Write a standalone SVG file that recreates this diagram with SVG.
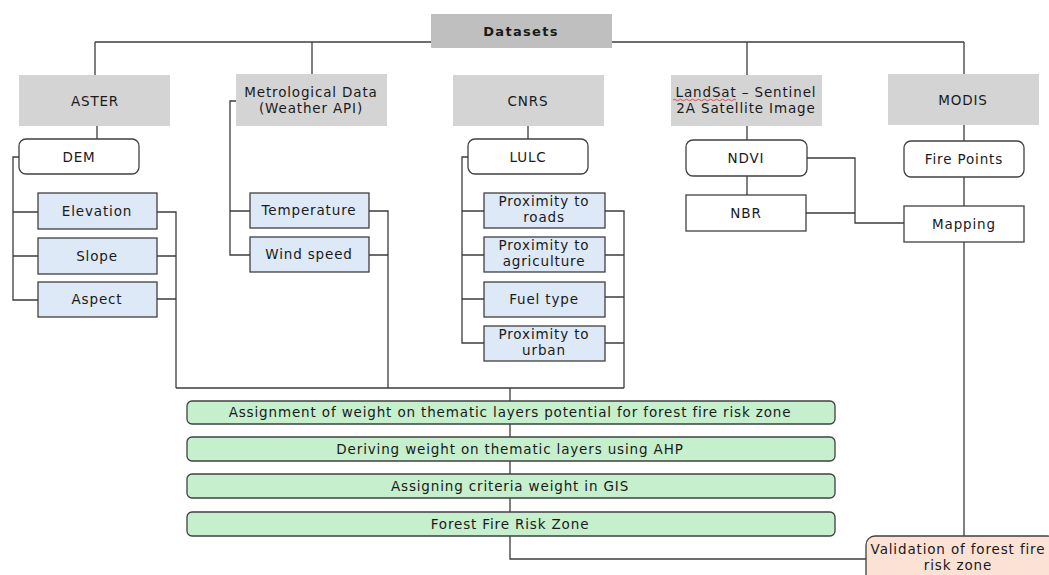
<svg xmlns="http://www.w3.org/2000/svg" width="1049" height="575" viewBox="0 0 1049 575">
<style>
  text { font-family: "DejaVu Sans", "Liberation Sans", sans-serif; font-size: 13.5px; letter-spacing: 0.85px; fill: #1a1a1a; text-anchor: middle; }
  .bold { font-weight: bold; font-size: 13px; letter-spacing: 1.3px; }
  .gray { fill: #d4d4d4; }
  .dark { fill: #bfbfbf; }
  .white { fill: #ffffff; stroke: #404040; stroke-width: 1.3; }
  .blue { fill: #dde9f6; stroke: #404040; stroke-width: 1.3; }
  .green { fill: #c6efcd; stroke: #404040; stroke-width: 1.3; }
  .peach { fill: #fbe2d5; stroke: #404040; stroke-width: 1.3; }
  .conn path { fill: none; stroke: #3c3c3c; stroke-width: 1.3; }
</style>
<rect width="1049" height="575" fill="#ffffff"/>
<g id="connectors" class="conn">
  <path d="M95 42 H964"/>
  <path d="M95 42 V75 M312 42 V74 M747 42 V75 M964 42 V74"/>
  <path d="M97 126 V139"/>
  <path d="M19 157 H13 V300 H38 M13 212 H38 M13 256 H38"/>
  <path d="M157 212 H176 V388 M157 256 H176 M157 299 H176"/>
  <path d="M236 101 H230 V255 H250 M230 211 H250"/>
  <path d="M369 211 H388 V388 M369 255 H388"/>
  <path d="M528 126 V139"/>
  <path d="M468 157 H462 V343 H484 M462 211 H484 M462 255 H484 M462 299 H484"/>
  <path d="M605 211 H624 V388 M605 255 H624 M605 297 H624 M605 343 H624"/>
  <path d="M176 388 H624 M510 388 V401"/>
  <path d="M510 424 V437 M510 461 V474 M510 498 V512 M510 536 V559 H866"/>
  <path d="M747 126 V140 M747 176 V195"/>
  <path d="M807 158 H855 V223 H904 M806 213 H855"/>
  <path d="M964 125 V141 M964 177 V206 M964 242 V536"/>
</g>
<g id="datasets"><rect class="dark" x="431" y="14" width="181" height="34"/><text class="bold" x="521" y="36">Datasets</text></g>
<g id="aster"><rect class="gray" x="19" y="75" width="151" height="51"/><text x="95" y="106">ASTER</text></g>
<g id="met"><rect class="gray" x="236" y="74" width="151" height="52"/><text x="311" y="97">Metrological Data</text><text x="311" y="113">(Weather API)</text></g>
<g id="cnrs"><rect class="gray" x="453" y="75" width="151" height="51"/><text x="528" y="106">CNRS</text></g>
<g id="landsat"><rect class="gray" x="671" y="75" width="151" height="51"/><text x="746" y="97">LandSat – Sentinel</text><text x="746" y="113">2A Satellite Image</text>
  <path d="M673 100 q1.5 -1.5 3 0 t3 0 t3 0 t3 0 t3 0 t3 0 t3 0 t3 0 t3 0 t3 0 t3 0 t3 0 t3 0 t3 0 t3 0 t3 0 t3 0 t3 0 t3 0 t3 0 t3 0" fill="none" stroke="#d03030" stroke-width="0.8"/></g>
<g id="modis"><rect class="gray" x="888" y="74" width="151" height="51"/><text x="963" y="105">MODIS</text></g>
<g id="dem"><rect class="white" x="19" y="139" width="120" height="35" rx="7"/><text x="79" y="162">DEM</text></g>
<g id="lulc"><rect class="white" x="468" y="139" width="120" height="35" rx="7"/><text x="528" y="162">LULC</text></g>
<g id="ndvi"><rect class="white" x="686" y="140" width="121" height="36" rx="7"/><text x="746" y="163">NDVI</text></g>
<g id="firepoints"><rect class="white" x="904" y="141" width="120" height="36" rx="7"/><text x="964" y="164">Fire Points</text></g>
<g id="nbr"><rect class="white" x="686" y="195" width="120" height="36"/><text x="746" y="218">NBR</text></g>
<g id="mapping"><rect class="white" x="904" y="206" width="120" height="36"/><text x="964" y="229">Mapping</text></g>
<g id="elevation"><rect class="blue" x="38" y="193" width="119" height="36"/><text x="97" y="216">Elevation</text></g>
<g id="slope"><rect class="blue" x="38" y="238" width="119" height="36"/><text x="97" y="261">Slope</text></g>
<g id="aspect"><rect class="blue" x="38" y="282" width="119" height="35"/><text x="97" y="304">Aspect</text></g>
<g id="temperature"><rect class="blue" x="250" y="193" width="119" height="35"/><text x="309" y="215">Temperature</text></g>
<g id="windspeed"><rect class="blue" x="250" y="237" width="119" height="35"/><text x="309" y="259">Wind speed</text></g>
<g id="roads"><rect class="blue" x="484" y="193" width="121" height="35"/><text x="544" y="206">Proximity to</text><text x="544" y="222">roads</text></g>
<g id="agriculture"><rect class="blue" x="484" y="237" width="121" height="35"/><text x="544" y="250">Proximity to</text><text x="544" y="266">agriculture</text></g>
<g id="fueltype"><rect class="blue" x="484" y="282" width="121" height="35"/><text x="544" y="304">Fuel type</text></g>
<g id="urban"><rect class="blue" x="484" y="326" width="121" height="35"/><text x="544" y="339">Proximity to</text><text x="544" y="355">urban</text></g>
<g id="assignment"><rect class="green" x="187" y="401" width="648" height="23" rx="5"/><text x="510" y="417">Assignment of weight on thematic layers potential for forest fire risk zone</text></g>
<g id="deriving"><rect class="green" x="187" y="437" width="648" height="24" rx="5"/><text x="510" y="454">Deriving weight on thematic layers using AHP</text></g>
<g id="criteria"><rect class="green" x="187" y="474" width="648" height="24" rx="5"/><text x="510" y="491">Assigning criteria weight in GIS</text></g>
<g id="riskzone"><rect class="green" x="187" y="512" width="648" height="24" rx="5"/><text x="510" y="529">Forest Fire Risk Zone</text></g>
<g id="validation"><rect class="peach" x="866" y="536" width="190" height="50" rx="9"/><text x="958" y="554">Validation of forest fire</text><text x="958" y="570">risk zone</text></g>
</svg>
